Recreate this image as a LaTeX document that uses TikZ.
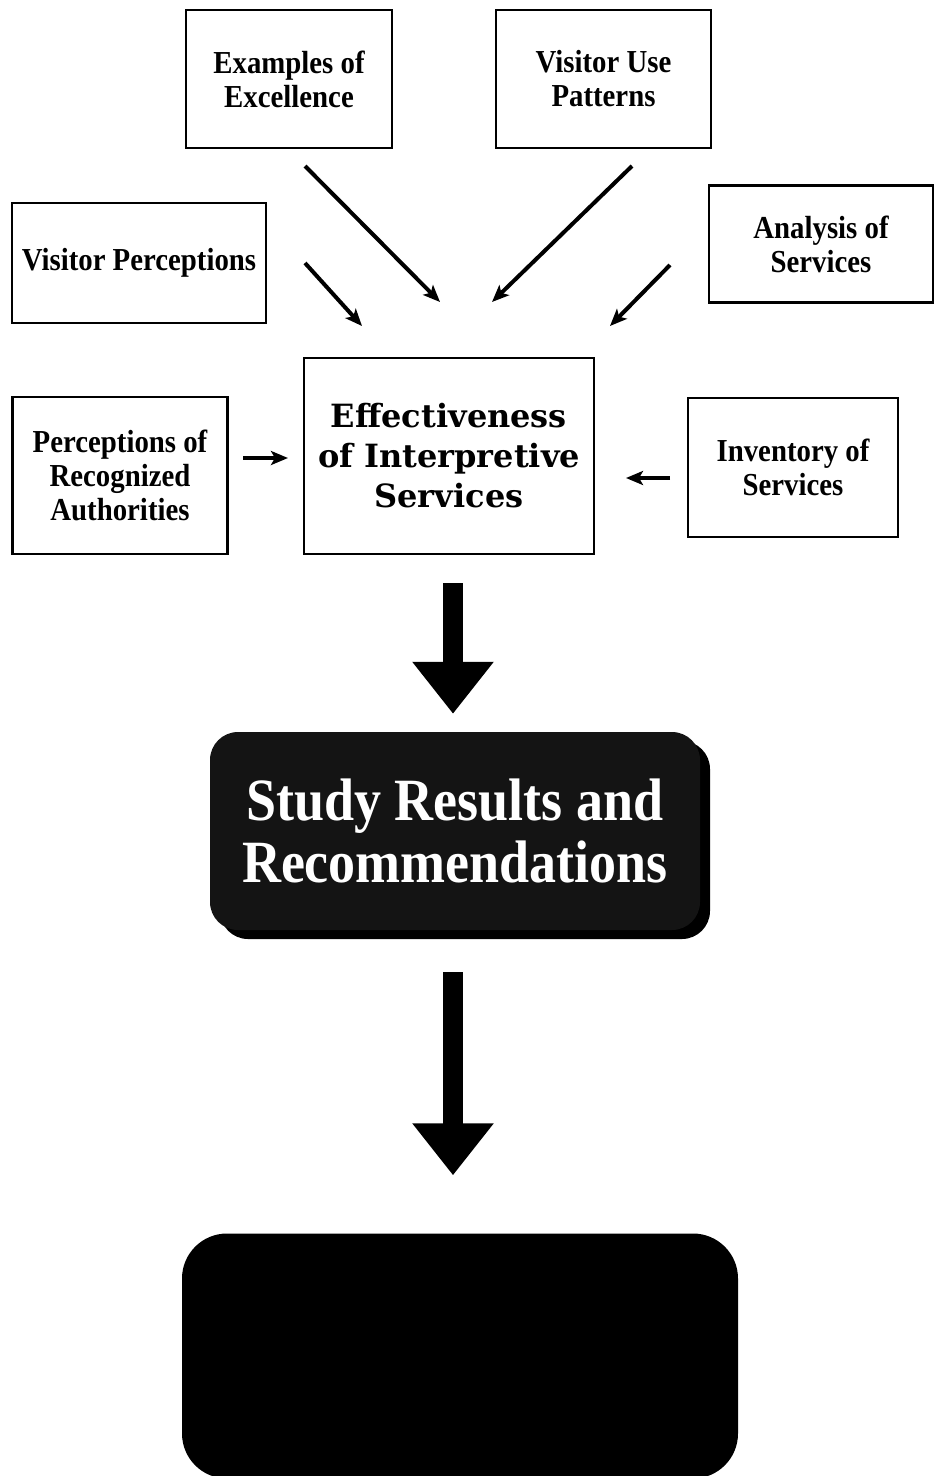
\documentclass[tikz,border=0pt]{standalone}
\usepackage{fontspec}
\setmainfont{Liberation Serif}
\newfontfamily\boxfont{Liberation Serif}[FakeStretch=0.9]
\newfontfamily\effont{DejaVu Serif}
\usetikzlibrary{arrows.meta,shadows}
\tikzset{
  box/.style={draw, line width=2.5pt, align=center, inner sep=0pt,
    font=\boxfont\fontsize{32}{34}\selectfont\bfseries},
  flow/.style={line width=4pt, -{Stealth[length=17pt,width=14pt,inset=4pt]}},
  bigarrow/.style={line width=20pt, -{Triangle[length=52pt,width=78pt]}}
}
\begin{document}
\begin{tikzpicture}[x=1pt,y=-1pt]
  \useasboundingbox (0,0) rectangle (934,1476);

  % input boxes
  \node[box, minimum width=206pt, minimum height=138pt] (exc) at (289,79) {Examples of\\Excellence};
  \node[box, minimum width=215pt, minimum height=138pt] (vup) at (603.5,79) {Visitor Use\\Patterns};
  \node[box, minimum width=254pt, minimum height=120pt] (vper) at (139,263) {Visitor Perceptions};
  \node[box, minimum width=224pt, minimum height=117pt] (ana) at (821,244) {Analysis of\\Services};
  \node[box, minimum width=215pt, minimum height=157pt] (pra) at (120,475.5) {Perceptions of\\Recognized\\Authorities};
  \node[box, minimum width=210pt, minimum height=139pt] (inv) at (793,467.5) {Inventory of\\Services};

  % centre box
  \node[box, minimum width=290pt, minimum height=196pt,
        font=\effont\fontsize{32}{40}\selectfont\bfseries] (eff) at (449,456)
        {Effectiveness\\of Interpretive\\Services};

  % results
  \node[fill=black!92, rounded corners=28pt, minimum width=490pt, minimum height=198pt,
        drop shadow={shadow xshift=10pt, shadow yshift=-9pt, fill=black, opacity=1},
        text=white, align=center, font=\boxfont\fontsize{60}{62}\selectfont\bfseries] (res) at (455,831)
        {Study Results and\\Recommendations};
  \node[fill=black, rounded corners=45pt, minimum width=556pt, minimum height=245pt] (fin) at (460,1356) {};

  % arrow ends
  \coordinate (exc-a) at (305,166);  \coordinate (exc-b) at (440,302);
  \coordinate (vup-a) at (632,166);  \coordinate (vup-b) at (492,302);
  \coordinate (vper-a) at (305,263); \coordinate (vper-b) at (362,326);
  \coordinate (ana-a) at (670,265);  \coordinate (ana-b) at (610,326);
  \coordinate (pra-a) at (243,458);  \coordinate (pra-b) at (288,458);
  \coordinate (inv-a) at (670,478);  \coordinate (inv-b) at (626,478);

  \draw[flow] (exc-a) -- (exc-b);
  \draw[flow] (vup-a) -- (vup-b);
  \draw[flow] (vper-a) -- (vper-b);
  \draw[flow] (ana-a) -- (ana-b);
  \draw[flow] (pra-a) -- (pra-b);
  \draw[flow] (inv-a) -- (inv-b);

  \draw[bigarrow, shorten <=28pt, shorten >=18pt] (eff.south -| 453,0) -- (res.north -| 453,0);
  \draw[bigarrow, shorten <=42pt, shorten >=58pt] (res.south -| 453,0) -- (fin.north -| 453,0);
\end{tikzpicture}
\end{document}
